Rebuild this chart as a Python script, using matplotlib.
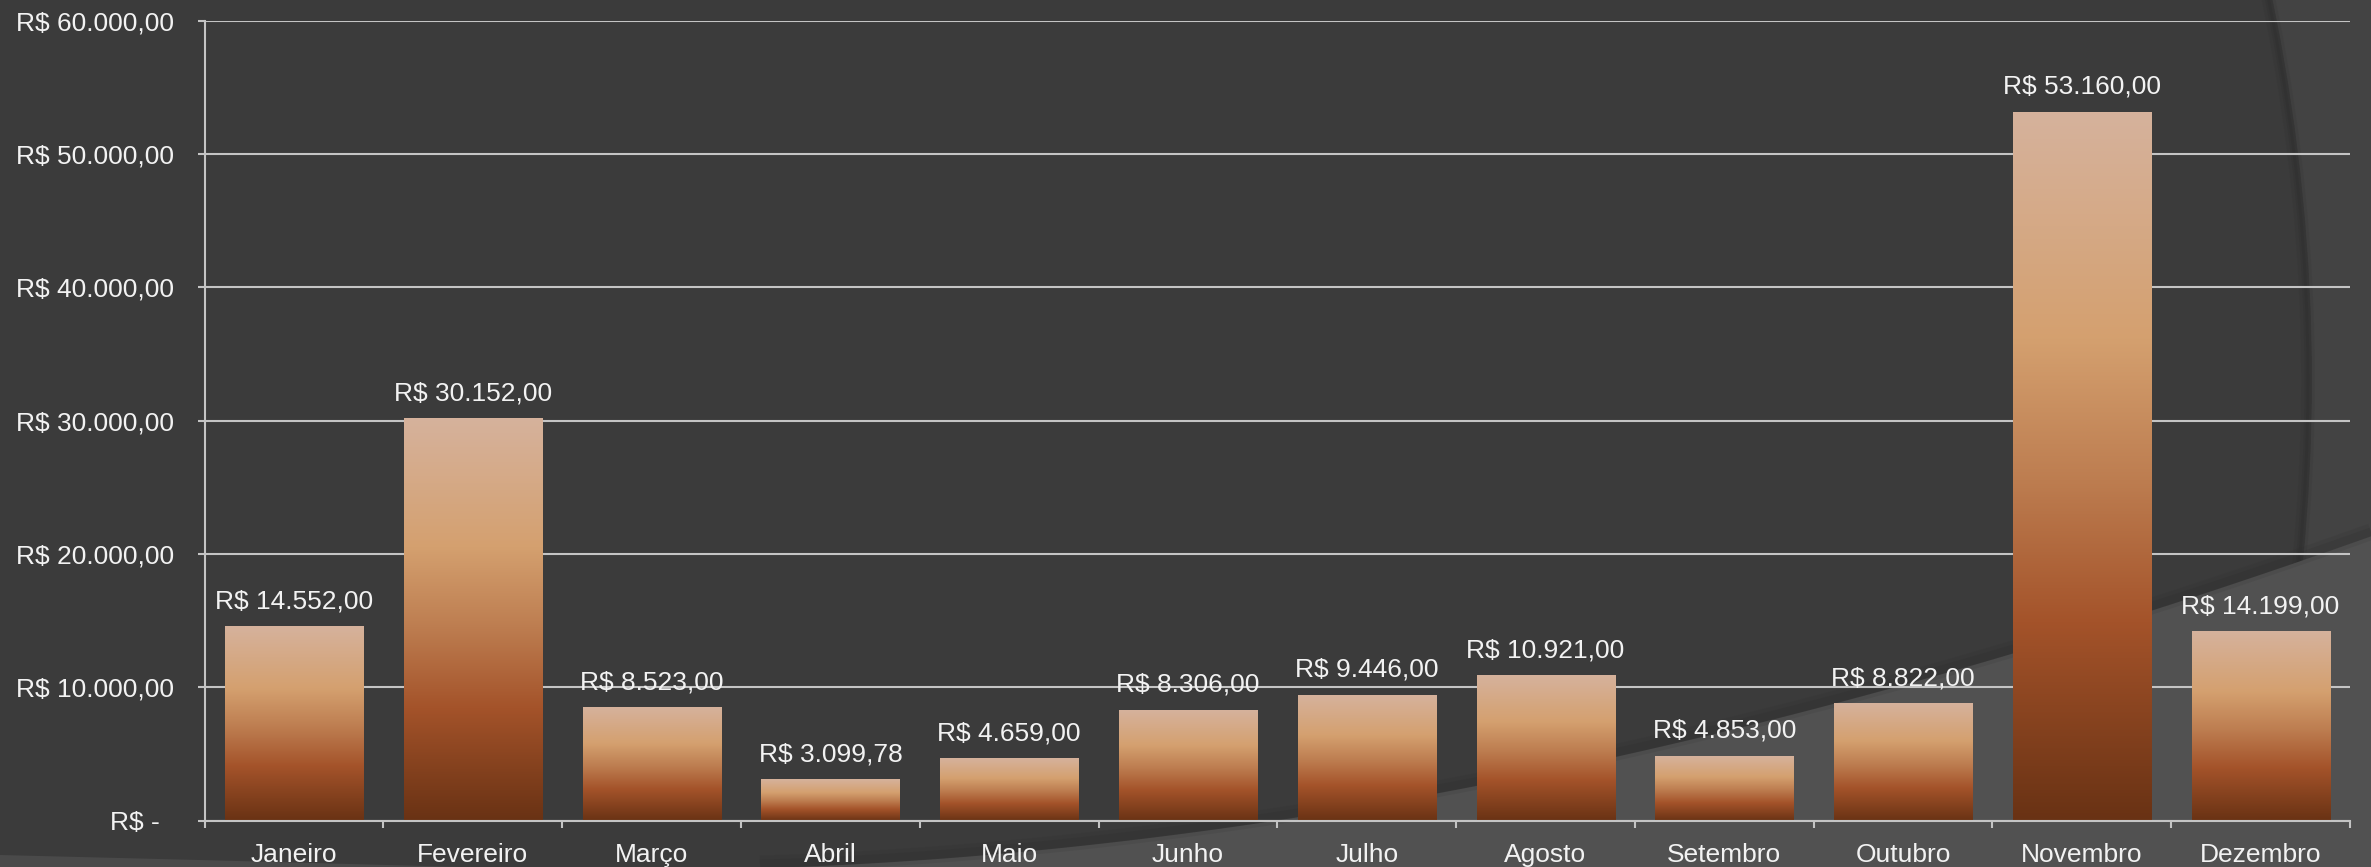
import numpy as np
import matplotlib
matplotlib.use('Agg')
import matplotlib.pyplot as plt
import matplotlib.transforms as mtransforms
from matplotlib.colors import LinearSegmentedColormap
from matplotlib.patches import Circle, Polygon

plt.rcParams['font.family'] = ['Liberation Sans', 'DejaVu Sans']

# dados
meses = ['Janeiro', 'Fevereiro', 'Março', 'Abril', 'Maio', 'Junho',
         'Julho', 'Agosto', 'Setembro', 'Outubro', 'Novembro', 'Dezembro']
valores = [14552.00, 30152.00, 8523.00, 3099.78, 4659.00, 8306.00,
           9446.00, 10921.00, 4853.00, 8822.00, 53160.00, 14199.00]
y_ticks = [0, 10000, 20000, 30000, 40000, 50000, 60000]

TXT = '#f2f2f2'
LINE = '#c4c4c4'


def brl(v):
    if v == 0:
        return 'R$ -'
    s = f'{v:,.2f}'.replace(',', 'X').replace('.', ',').replace('X', '.')
    return 'R$ ' + s


W, H = 2371, 867
fig = plt.figure(figsize=(W / 100, H / 100), dpi=100)
fig.patch.set_facecolor('#434343')

# fundo decorativo (pixels)
bg = fig.add_axes([0, 0, 1, 1], zorder=-10)
bg.set_xlim(0, W)
bg.set_ylim(H, 0)
bg.axis('off')
bg.add_patch(Circle((453, 380), 1859, facecolor='#3b3b3b', edgecolor='none'))
for lw, a in [(10, 0.12), (5, 0.2), (2, 0.25)]:
    bg.add_patch(Circle((453, 380), 1859 - 4, facecolor='none', edgecolor='#2a2a2a', lw=lw, alpha=a))

px = np.array([840, 1000, 1100, 1277, 1434, 1612, 1833, 2000, 2150, 2371])
py = np.array([867, 850, 842, 820, 796, 758, 703, 657, 608, 537])
coef = np.polyfit(px, py, 3)
xs = np.linspace(760, W, 300)
ys = np.polyval(coef, xs)
for lw, a in [(12, 0.12), (6, 0.18)]:
    bg.plot(xs, ys - 4, color='#2a2a2a', lw=lw, alpha=a, solid_capstyle='butt')
bg.fill_between(xs, ys, H + 10, color='#515151', lw=0)
bg.add_patch(Polygon([(0, 855), (200, 860), (500, 868), (0, 868)], color='#4a4a4a', lw=0))

# grafico
ax = fig.add_axes([204.7 / W, 1 - 820.7 / H, (2350 - 204.7) / W, (820.7 - 20.7) / H])
ax.patch.set_alpha(0)

cmap = LinearSegmentedColormap.from_list('cobre', [
    (0.0, '#d6b29c'), (0.32, '#d4a06f'), (0.52, '#bd7d50'),
    (0.72, '#a4532a'), (1.0, '#693214')])
grad = np.linspace(0, 1, 256).reshape(-1, 1)

x = np.arange(len(meses))
bars = ax.bar(x, valores, width=0.772, color='none', edgecolor='none')
for b, v in zip(bars, valores):
    ax.imshow(grad, cmap=cmap, aspect='auto', origin='upper', zorder=2,
              extent=(b.get_x(), b.get_x() + b.get_width(), 0, b.get_height()))
    ax.annotate(brl(v), (b.get_x() + b.get_width() / 2, b.get_height()),
                xytext=(0, 13), textcoords='offset points', ha='center',
                va='baseline', color=TXT, fontsize=19, zorder=3)

ax.set_xlim(-0.5, len(meses) - 0.5)
ax.set_ylim(0, 60000)
ax.set_yticks(y_ticks)
ax.set_yticklabels([brl(t) for t in y_ticks])
ax.set_xticks(x)
ax.set_xticklabels(meses)
ax.set_xticks(np.arange(-0.5, len(meses), 1), minor=True)

ax.tick_params(axis='x', which='major', length=0, pad=16, labelsize=19, labelcolor=TXT)
ax.tick_params(axis='x', which='minor', length=5, width=1.5, color=LINE)
ax.tick_params(axis='y', length=5, width=1.5, color=LINE, pad=17, labelsize=19, labelcolor=TXT)

# "R$ -" fica deslocado como no formato contabil
lab0 = ax.get_yticklabels()[0]
lab0.set_transform(lab0.get_transform() + mtransforms.ScaledTranslation(-0.14, 0, fig.dpi_scale_trans))

ax.grid(axis='y', color=LINE, lw=1.5)
ax.set_axisbelow(True)
for s in ['top', 'right']:
    ax.spines[s].set_visible(False)
for s in ['left', 'bottom']:
    ax.spines[s].set_color(LINE)
    ax.spines[s].set_linewidth(1.5)

fig.savefig('out.png', dpi=100, facecolor=fig.get_facecolor())
